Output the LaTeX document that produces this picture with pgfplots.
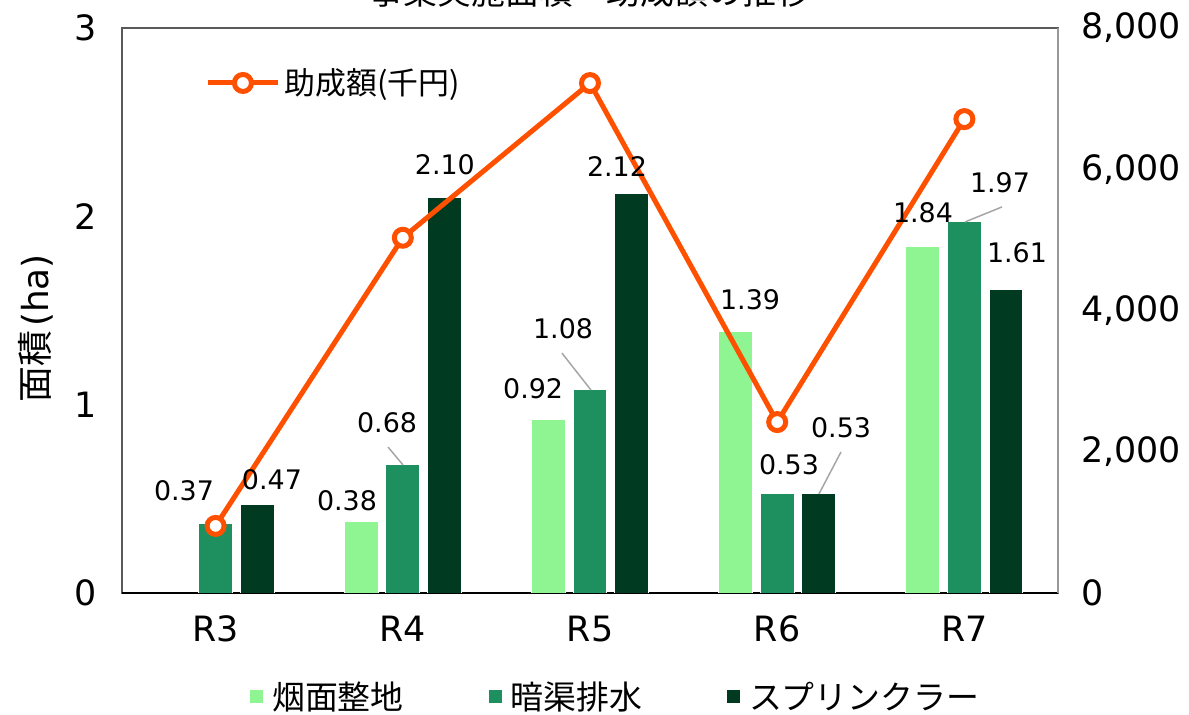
\documentclass[border=0pt]{standalone}
\usepackage{pgfplots}
\pgfplotsset{compat=1.18}
\usepackage{fontspec}
\setmainfont{DejaVu Sans}
\newfontfamily\jp{Noto Sans CJK JP}
\definecolor{cLight}{HTML}{8EF592}
\definecolor{cMid}{HTML}{1E9060}
\definecolor{cDark}{HTML}{003A20}
\definecolor{cLine}{HTML}{FF5000}
\definecolor{cAxis}{HTML}{595959}
\definecolor{cLead}{HTML}{A6A6A6}
\pgfplotsset{
  common/.style={scale only axis, width=468bp, height=282.5bp, xmin=-0.5, xmax=4.5,
    major tick length=0, /pgf/number format/assume math mode=true,
    tick label style={font=\fontsize{17.5}{20}\selectfont}},
  sq/.style={legend image code/.code={\fill[##1] (0bp,-3.5bp) rectangle (7bp,3.5bp);}},
}
\begin{document}
\begin{tikzpicture}
\begin{axis}[common,
  ymin=0, ymax=3, ytick={0,1,2,3},
  xtick={0,1,2,3,4}, xticklabels={R3,R4,R5,R6,R7},
  axis line style={draw=cAxis, line width=0.6bp},
  yticklabel style={xshift=-9bp},
  xticklabel style={yshift=-8bp},
  extra y ticks={0}, extra y tick labels={},
  extra y tick style={grid=major, major grid style={black, line width=1.2bp}},
  ybar, bar width=0.18,
  ylabel={{\jp 面積}\kern2bp(ha)},
  ylabel style={font=\fontsize{18}{20}\selectfont, yshift=4bp, xshift=-9bp},
  legend style={at={(0.528,-0.184)}, anchor=center, draw=none, fill=none,
    legend columns=3, font=\jp\fontsize{16.5}{19}\selectfont,
    /tikz/every even column/.append style={column sep=40bp},
    /tikz/every odd column/.append style={column sep=2bp}},
]
\addplot[fill=cLight, draw=white, line width=0.5bp, bar shift=-0.222, sq]
  coordinates {(1,0.38) (2,0.92) (3,1.39) (4,1.84)};
\addlegendentry{烟面整地}
\addplot[fill=cMid, draw=white, line width=0.5bp, bar shift=0, sq]
  coordinates {(0,0.37) (1,0.68) (2,1.08) (3,0.53) (4,1.97)};
\addlegendentry{暗渠排水}
\addplot[fill=cDark, draw=white, line width=0.5bp, bar shift=0.222, sq]
  coordinates {(0,0.47) (1,2.10) (2,2.12) (3,0.53) (4,1.61)};
\addlegendentry{スプリンクラー}
\end{axis}
\begin{axis}[common,
  ymin=0, ymax=8000, ytick={0,2000,4000,6000,8000},
  axis y line*=right, axis x line=none,
  y axis line style={draw=gray!80, line width=0.6bp},
  yticklabel style={/pgf/number format/1000 sep={,}, xshift=8bp},
  legend style={at={(0.0887,0.9027)}, anchor=west, draw=none, fill=none,
    inner xsep=0pt, font=\jp\fontsize{15.5}{18}\selectfont},
  legend image code/.code={\draw[mark repeat=2,mark phase=2,#1] plot coordinates {(0bp,0bp)(17.5bp,0bp)(35bp,0bp)};},
]
\addplot[cLine, line width=2.5bp, mark=*, mark size=4.25bp,
  mark options={fill=white, draw=cLine, line width=2.5bp}]
  coordinates {(0,950) (1,5030) (2,7220) (3,2420) (4,6710)};
\addlegendentry{助成額(千円)}
\end{axis}
\begin{axis}[common, ymin=0, ymax=3, hide axis, clip=false]
\addplot[draw=none, forget plot] coordinates {(0,0)};
\draw[cLead, line width=0.75bp] (axis cs:0.921,0.775) -- (axis cs:1.001,0.680);
\draw[cLead, line width=0.75bp] (axis cs:1.850,1.274) -- (axis cs:2.005,1.078);
\draw[cLead, line width=0.75bp] (axis cs:3.341,0.749) -- (axis cs:3.223,0.526);
\draw[cLead, line width=0.75bp] (axis cs:4.201,2.050) -- (axis cs:4.003,1.970);
\begin{scope}[every node/.style={font=\fontsize{13.5}{16}\selectfont}]
\node at (axis cs:-0.169,0.542) {0.37};
\node at (axis cs:0.301,0.600) {0.47};
\node at (axis cs:0.702,0.489) {0.38};
\node at (axis cs:0.916,0.903) {0.68};
\node at (axis cs:1.225,2.273) {2.10};
\node at (axis cs:1.696,1.083) {0.92};
\node at (axis cs:1.856,1.402) {1.08};
\node at (axis cs:2.144,2.262) {2.12};
\node at (axis cs:2.855,1.556) {1.39};
\node at (axis cs:3.063,0.680) {0.53};
\node at (axis cs:3.341,0.876) {0.53};
\node at (axis cs:3.779,2.018) {1.84};
\node at (axis cs:4.190,2.177) {1.97};
\node at (axis cs:4.281,1.805) {1.61};
\end{scope}
\node[font=\jp\fontsize{17}{20}\selectfont, anchor=base] at (rel axis cs:0.5,1) [yshift=11.5bp] {事業実施面積・助成額の推移};
\end{axis}
\pgfresetboundingbox
\path[use as bounding box] (-61bp,-61bp) rectangle (533.5bp,296.5bp);
\end{tikzpicture}
\end{document}
